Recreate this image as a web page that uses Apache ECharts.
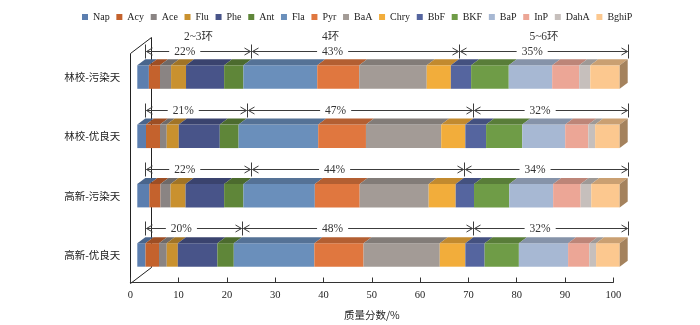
<!DOCTYPE html>
<html>
<head>
<meta charset="utf-8">
<script src="https://cdn.jsdelivr.net/npm/echarts@6/dist/echarts.min.js"></script>
<style>
  html, body { margin: 0; padding: 0; background: #fff; }
  #chart { width: 700px; height: 325px; }
</style>
</head>
<body>
<div id="chart"></div>
<script>
// Sites and weather conditions (top to bottom)
const categories = ['林校-污染天', '林校-优良天', '高新-污染天', '高新-优良天'];

// PAH species, in stacking order
const species = ['Nap', 'Acy', 'Ace', 'Flu', 'Phe', 'Ant', 'Fla', 'Pyr', 'BaA', 'Chry', 'BbF', 'BKF', 'BaP', 'InP', 'DahA', 'BghiP'];

// Mass fraction (%) of each species, one value per category
const Nap   = [2.4, 1.8, 2.5, 1.7];
const Acy   = [2.3, 2.9, 2.3, 2.8];
const Ace   = [2.3, 1.4, 2.1, 1.6];
const Flu   = [3.1, 2.5, 3.1, 2.3];
const Phe   = [7.9, 8.5, 8.0, 8.2];
const Ant   = [4.0, 3.9, 4.0, 3.4];
const Fla   = [15.3, 16.5, 14.8, 16.7];
const Pyr   = [8.7, 9.9, 9.3, 10.2];
const BaA   = [14.0, 15.6, 14.3, 15.8];
const Chry  = [5.0, 5.0, 5.6, 5.3];
const BbF   = [4.2, 4.3, 3.8, 4.0];
const BKF   = [7.8, 7.5, 7.3, 7.1];
const BaP   = [9.0, 8.9, 9.1, 10.2];
const InP   = [5.6, 4.8, 5.7, 4.4];
const DahA  = [2.3, 1.4, 2.2, 1.4];
const BghiP = [6.1, 5.1, 5.9, 4.9];

// Ring-number group totals (%)
const ring23  = [22, 21, 22, 20];
const ring4   = [43, 47, 44, 48];
const ring56  = [35, 32, 34, 32];
const ringNames = ['2~3环', '4环', '5~6环'];

// x axis ticks
const xTicks = { min: 0, max: 100, interval: 10 };

const seriesValues = [Nap, Acy, Ace, Flu, Phe, Ant, Fla, Pyr, BaA, Chry, BbF, BKF, BaP, InP, DahA, BghiP];
const colors = ['#5b7eaf', '#c4622d', '#8a8483', '#c9912f', '#485489', '#5f8639', '#6a8fbb', '#e0773f',
                '#a39b96', '#f2ad3b', '#55659f', '#6f9c47', '#a7b8d3', '#eca696', '#c6bfbc', '#fcc88f'];

const SERIF = '"Liberation Serif", "Times New Roman", serif';
const CJK = '"Noto Sans CJK SC", sans-serif';
const MIXED = '"Liberation Serif", "Noto Sans CJK SC", serif';

// pseudo-3D depth of the bars
const DX = 8, DY = 6;
const BAR_RATIO = 0.396;

function shade(hex, f) {
  const n = parseInt(hex.slice(1), 16);
  const r = Math.round(((n >> 16) & 255) * f);
  const g = Math.round(((n >> 8) & 255) * f);
  const b = Math.round((n & 255) * f);
  return 'rgb(' + r + ',' + g + ',' + b + ')';
}

// cumulative stacking of the species
const cum = categories.map(() => 0);
const barSeries = species.map((name, i) => {
  const data = categories.map((c, j) => {
    const start = cum[j];
    cum[j] += seriesValues[i][j];
    return [start, cum[j], j];
  });
  const isLast = i === species.length - 1;
  const color = colors[i];
  return {
    type: 'custom',
    name: name,
    xAxisIndex: 1,
    yAxisIndex: 1,
    z: 3,
    itemStyle: { color: color },
    dimensions: ['start', 'end', 'cat'],
    encode: { x: [0, 1], y: 2 },
    renderItem: function (params, api) {
      const s = api.coord([api.value(0), api.value(2)]);
      const e = api.coord([api.value(1), api.value(2)]);
      const h = api.size([0, 1])[1] * BAR_RATIO;
      const y0 = s[1] - h / 2, y1 = s[1] + h / 2;
      const x0 = s[0], x1 = e[0];
      const children = [
        { type: 'rect', shape: { x: x0, y: y0, width: x1 - x0, height: h }, style: { fill: color } },
        { type: 'polygon', shape: { points: [[x0, y0], [x1, y0], [x1 + DX, y0 - DY], [x0 + DX, y0 - DY]] },
          style: { fill: shade(color, 0.8) } }
      ];
      if (isLast) {
        children.push({ type: 'polygon',
          shape: { points: [[x1, y0], [x1 + DX, y0 - DY], [x1 + DX, y1 - DY], [x1, y1]] },
          style: { fill: shade(color, 0.65) } });
      }
      return { type: 'group', children: children };
    },
    data: data
  };
});

// group brackets with arrows and percentages above each bar
const labelFrac = [0.37, 0.39, 0.43];
const ringFrac = [0.5, 0.38, 0.5];
const ARROW_COLOR = '#3c3c3c';
const annotationSeries = {
  type: 'custom',
  name: 'rings',
  xAxisIndex: 1,
  yAxisIndex: 1,
  z: 4,
  silent: true,
  dimensions: ['cat', 'g1', 'g2', 'g3'],
  encode: { y: 0, x: [1] },
  renderItem: function (params, api) {
    const j = api.value(0);
    const groups = [api.value(1), api.value(2), api.value(3)];
    const center = api.coord([0, j]);
    const yL = Math.round(center[1] - 26.5) + 0.5;
    const bounds = [0, groups[0], groups[0] + groups[1], groups[0] + groups[1] + groups[2]];
    const px = bounds.map(v => Math.round(api.coord([v, j])[0] + DX) + 0.5);
    const children = [];
    const ls = { stroke: ARROW_COLOR, lineWidth: 1, fill: null };
    px.forEach(x => {
      children.push({ type: 'line', shape: { x1: x, y1: yL - 7, x2: x, y2: yL + 7 }, style: ls });
    });
    for (let k = 0; k < 3; k++) {
      const a = px[k], b = px[k + 1];
      children.push({ type: 'line', shape: { x1: a + 1, y1: yL, x2: b - 1, y2: yL }, style: ls });
      children.push({ type: 'polyline', shape: { points: [[a + 7, yL - 3.5], [a + 1, yL], [a + 7, yL + 3.5]] }, style: ls });
      children.push({ type: 'polyline', shape: { points: [[b - 7, yL - 3.5], [b - 1, yL], [b - 7, yL + 3.5]] }, style: ls });
      children.push({ type: 'text', z2: 10, style: {
        text: groups[k] + '%', x: a + labelFrac[k] * (b - a), y: yL,
        align: 'center', verticalAlign: 'middle',
        font: '11.5px ' + SERIF, fill: '#333',
        backgroundColor: '#fff', padding: [1, 5]
      } });
      if (j === 0) {
        children.push({ type: 'text', style: {
          text: ringNames[k], x: a + ringFrac[k] * (b - a), y: yL - 15,
          align: 'center', verticalAlign: 'middle',
          font: '11.5px ' + MIXED, fill: '#333'
        } });
      }
    }
    return { type: 'group', children: children };
  },
  data: categories.map((c, j) => [j, ring23[j], ring4[j], ring56[j]])
};

const chart = echarts.init(document.getElementById('chart'), null, { renderer: 'canvas' });

const option = {
  animation: false,
  backgroundColor: '#fff',
  legend: {
    data: species,
    left: 77,
    top: 7,
    icon: 'rect',
    itemWidth: 6,
    itemHeight: 6,
    itemGap: 6.7,
    textStyle: { fontFamily: SERIF, fontSize: 10, color: '#222' },
    selectedMode: false
  },
  grid: [
    // floor axis
    { left: 130.3, right: 86.7, top: 53, bottom: 35 },
    // bars (front faces)
    { left: 137.3, right: 80.3, top: 47.4, bottom: 40.4 }
  ],
  xAxis: [
    {
      gridIndex: 0, type: 'value', min: xTicks.min, max: xTicks.max, interval: xTicks.interval,
      axisLine: { show: true, lineStyle: { color: '#333', width: 1 } },
      axisTick: { show: true, inside: true, length: 5, lineStyle: { color: '#333' } },
      axisLabel: { fontFamily: SERIF, fontSize: 10.5, color: '#222', margin: 7 },
      splitLine: { show: false },
      name: '质量分数/%', nameLocation: 'middle', nameGap: 27,
      nameTextStyle: { fontFamily: CJK, fontSize: 10.5, color: '#222' }
    },
    { gridIndex: 1, type: 'value', min: 0, max: 100, show: false }
  ],
  yAxis: [
    { gridIndex: 0, type: 'value', min: 0, max: 1, show: false },
    {
      gridIndex: 1, type: 'category', data: categories, inverse: true,
      axisLine: { show: false }, axisTick: { show: false },
      axisLabel: { margin: 17, fontFamily: CJK, fontSize: 10.5, color: '#222' }
    }
  ],
  series: barSeries.concat([annotationSeries])
};

chart.setOption(option);

// left wall outline of the 3D frame
const wx = Math.round(chart.convertToPixel({ xAxisIndex: 0 }, 0)) + 0.5;
const wyTop = Math.round(chart.convertToPixel({ yAxisIndex: 0 }, 1)) + 0.5;
const wyBot = Math.round(chart.convertToPixel({ yAxisIndex: 0 }, 0)) + 0.5;
const WDX = 21, WDY = 16;
chart.setOption({
  graphic: [{
    type: 'polyline', silent: true, z: 0,
    shape: { points: [[wx, wyBot], [wx, wyTop], [wx + WDX, wyTop - WDY], [wx + WDX, wyBot - WDY], [wx, wyBot]] },
    style: { stroke: '#222', lineWidth: 1, fill: null }
  }]
});
</script>
</body>
</html>
